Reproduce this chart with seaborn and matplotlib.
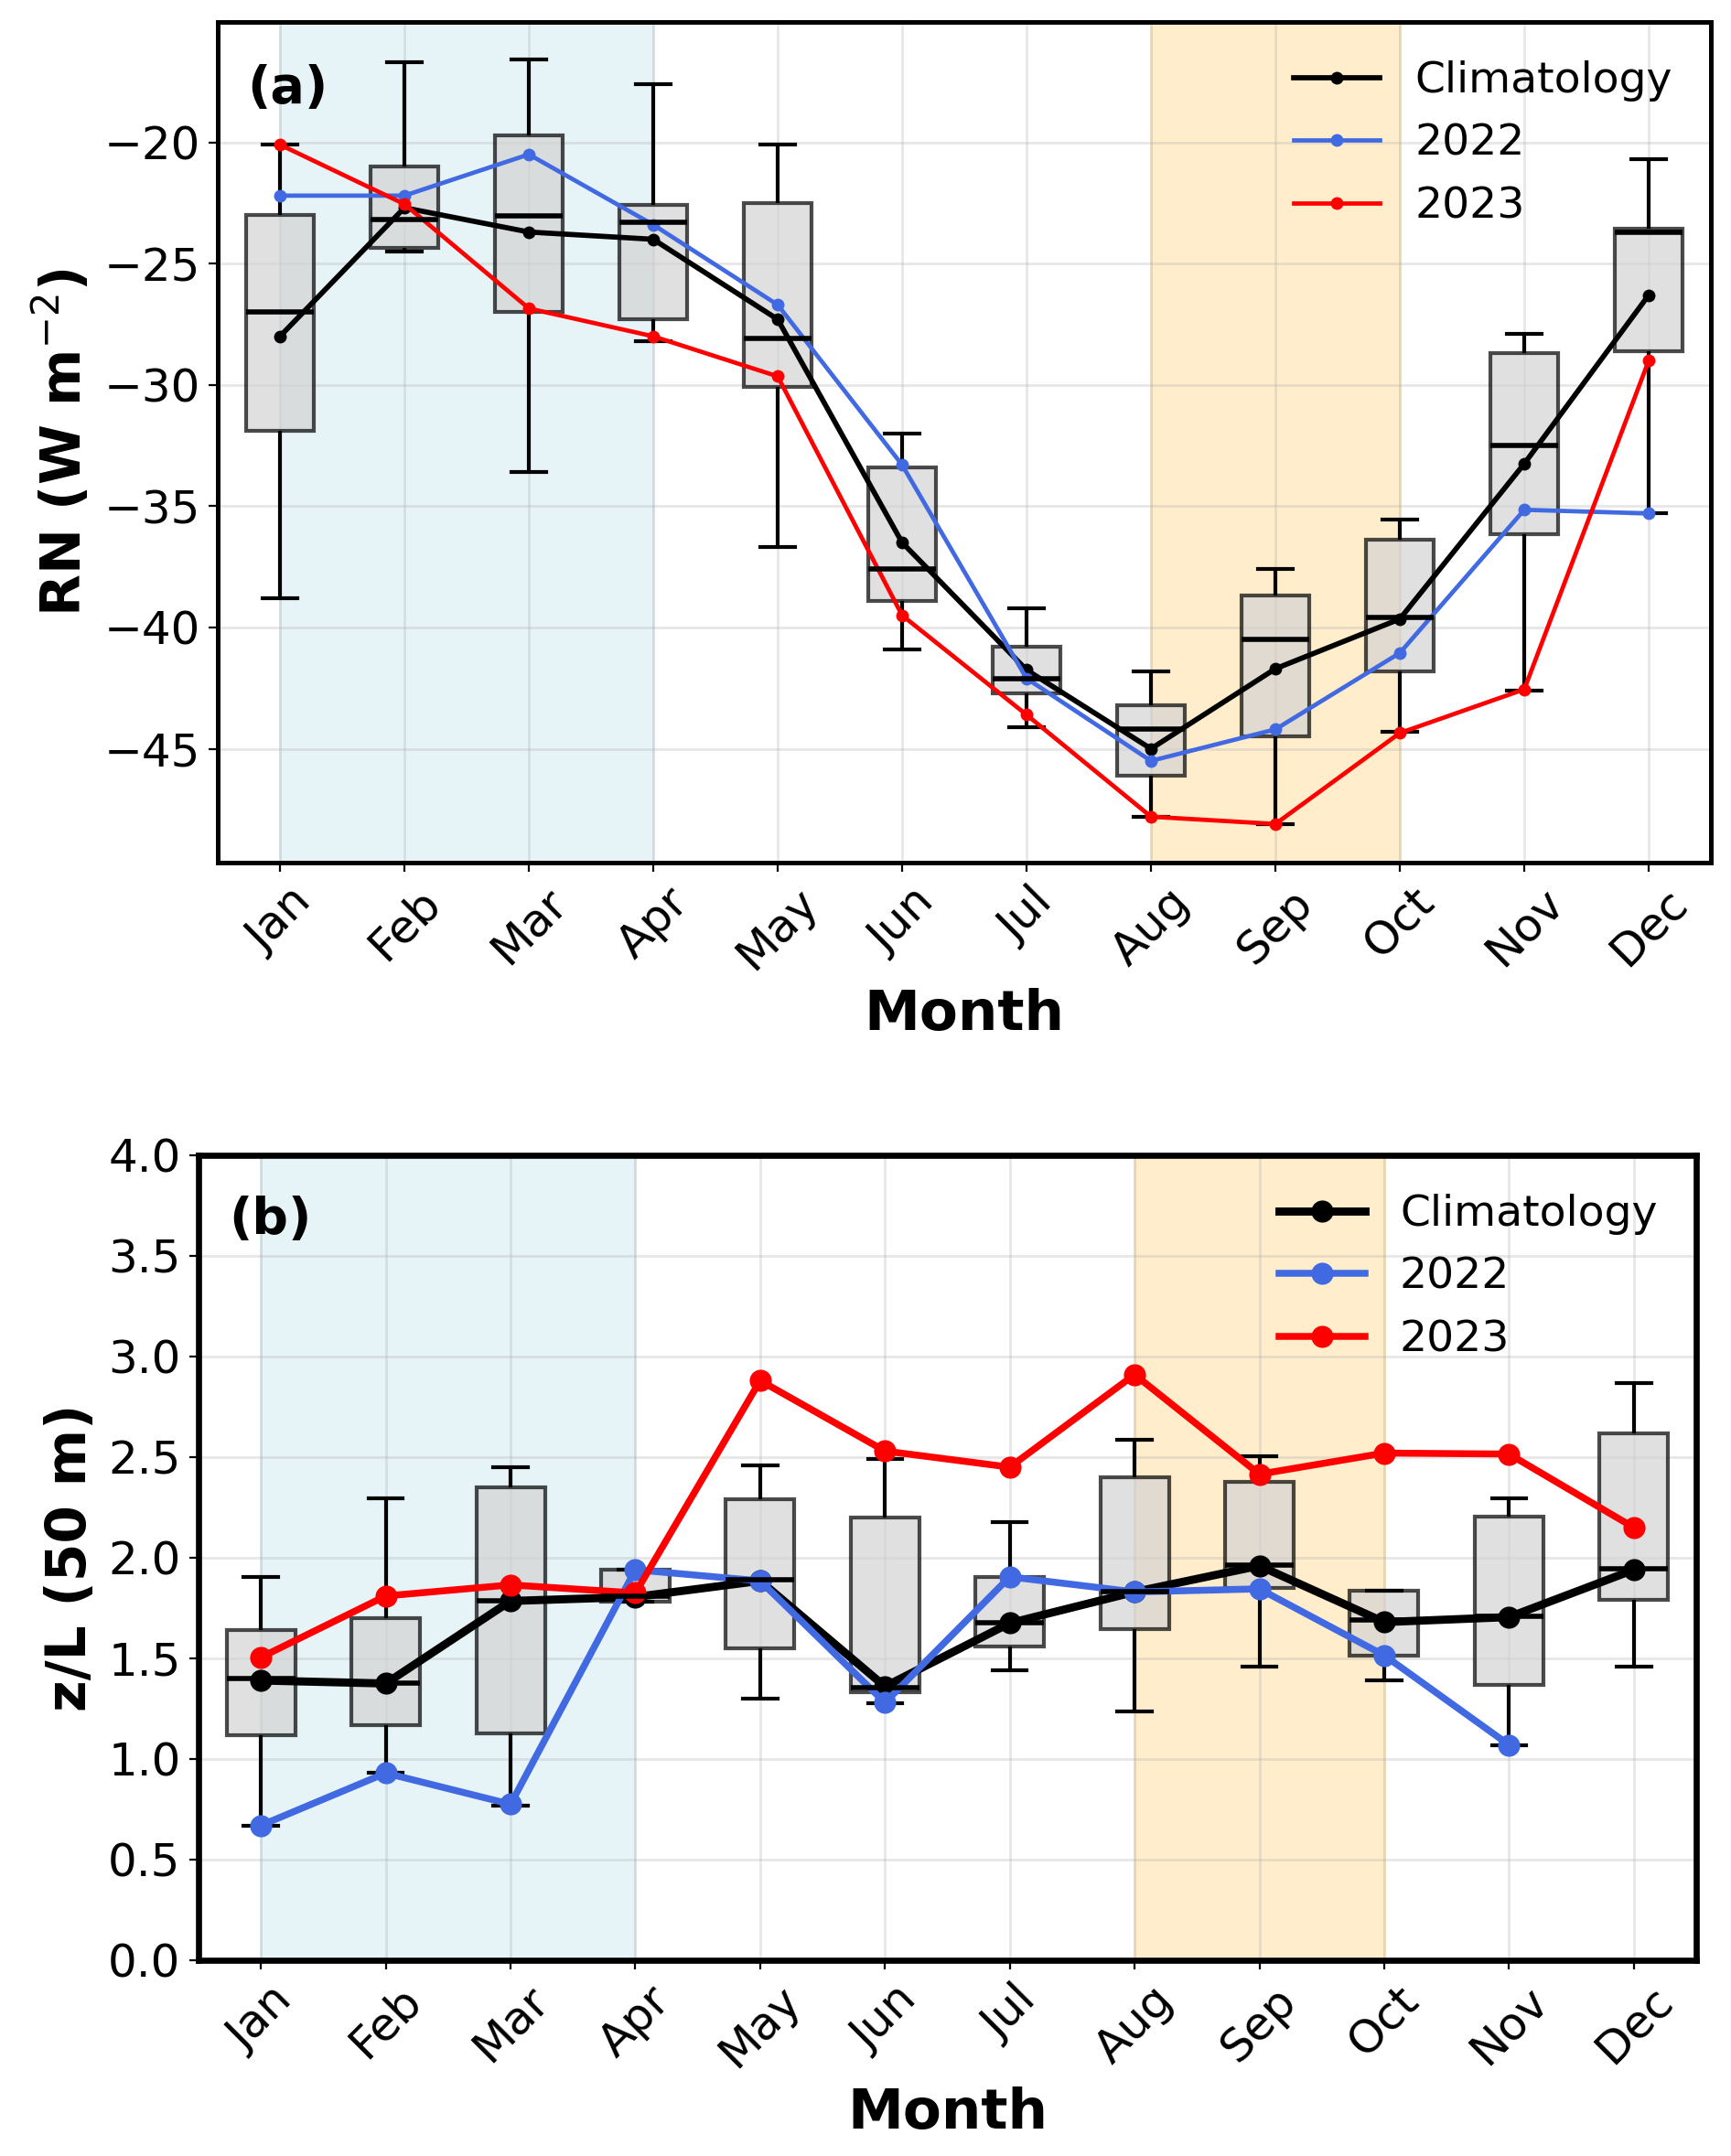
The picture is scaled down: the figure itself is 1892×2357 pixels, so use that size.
import numpy as np
import pandas as pd
import matplotlib
matplotlib.use("Agg")
import matplotlib.pyplot as plt
import seaborn as sns

months = ["Jan", "Feb", "Mar", "Apr", "May", "Jun",
          "Jul", "Aug", "Sep", "Oct", "Nov", "Dec"]

#%% (a) net radiation, box stats
rn_whislo = [-38.8, -24.5, -33.6, -28.2, -36.7, -40.9, -44.1, -47.8, -48.1, -44.3, -42.6, -35.3]
rn_q1     = [-31.9, -24.35, -27.0, -27.3, -30.1, -38.9, -42.7, -46.1, -44.5, -41.8, -36.15, -28.6]
rn_med    = [-27.0, -23.2, -23.05, -23.3, -28.1, -37.6, -42.1, -44.2, -40.5, -39.6, -32.5, -23.7]
rn_q3     = [-23.0, -21.0, -19.7, -22.6, -22.5, -33.4, -40.8, -43.2, -38.7, -36.4, -28.7, -23.55]
rn_whishi = [-20.1, -16.7, -16.6, -17.6, -20.1, -32.0, -39.2, -41.8, -37.6, -35.55, -27.9, -20.7]
rn_clim = [-28.0, -22.7, -23.7, -24.0, -27.3, -36.5, -41.75, -45.0, -41.7, -39.65, -33.25, -26.3]
rn_2022 = [-22.2, -22.2, -20.5, -23.4, -26.7, -33.3, -42.1, -45.5, -44.2, -41.05, -35.15, -35.3]
rn_2023 = [-20.1, -22.55, -26.85, -28.0, -29.65, -39.5, -43.6, -47.8, -48.1, -44.35, -42.55, -29.0]

#%% (b) stability z/L at 50 m
zl_whislo = [0.67, 0.93, 0.77, 1.78, 1.30, 1.275, 1.44, 1.235, 1.46, 1.39, 1.07, 1.46]
zl_q1     = [1.12, 1.17, 1.125, 1.78, 1.55, 1.333, 1.56, 1.645, 1.85, 1.515, 1.37, 1.79]
zl_med    = [1.40, 1.375, 1.785, 1.81, 1.89, 1.355, 1.675, 1.83, 1.965, 1.69, 1.71, 1.945]
zl_q3     = [1.64, 1.70, 2.35, 1.94, 2.29, 2.20, 1.905, 2.40, 2.375, 1.835, 2.205, 2.62]
zl_whishi = [1.905, 2.295, 2.45, 1.94, 2.46, 2.49, 2.175, 2.585, 2.505, 1.835, 2.295, 2.87]
zl_clim = [1.39, 1.375, 1.785, 1.805, 1.885, 1.36, 1.675, 1.83, 1.96, 1.68, 1.705, 1.94]
zl_2022 = [0.67, 0.93, 0.775, 1.94, 1.885, 1.28, 1.905, 1.83, 1.845, 1.515, 1.07, np.nan]
zl_2023 = [1.505, 1.81, 1.865, 1.825, 2.88, 2.53, 2.45, 2.91, 2.415, 2.52, 2.515, 2.15]


def five_number_frame(lo, q1, med, q3, hi):
    # five points per month give exactly these quartiles / extremes
    rows = []
    for i, m in enumerate(months):
        for v in (lo[i], q1[i], med[i], q3[i], hi[i]):
            rows.append({"month": m, "value": v})
    return pd.DataFrame(rows)


def draw_panel(ax, df, clim, y22, y23, ylabel, tag, lw_c, lw_y, ms, spine_w):
    pos = np.arange(len(months))
    ax.axvspan(0, 3, color="lightblue", alpha=0.3, zorder=0)
    ax.axvspan(7, 9, color="orange", alpha=0.2, zorder=0)
    sns.boxplot(data=df, x="month", y="value", order=months, ax=ax,
                width=0.55, whis=(0, 100), saturation=1, fliersize=0,
                color="lightgray",
                boxprops=dict(facecolor="lightgray", edgecolor="black", alpha=0.7, linewidth=1.5),
                whiskerprops=dict(color="black", linewidth=1.5),
                capprops=dict(color="black", linewidth=1.5),
                medianprops=dict(color="black", linewidth=2))
    for vals, col, lw, lab in [(clim, "black", lw_c, "Climatology"),
                               (y22, "royalblue", lw_y, "2022"),
                               (y23, "red", lw_y, "2023")]:
        sns.lineplot(x=pos, y=vals, ax=ax, color=col, linewidth=lw, marker="o",
                     markersize=ms, markeredgecolor=col, markeredgewidth=0, label=lab)
    ax.set_xlim(-0.5, len(months) - 0.5)
    ax.set_xticks(pos)
    ax.set_xticklabels(months, rotation=45)
    ax.grid(True, alpha=0.3, linewidth=1)
    ax.set_axisbelow(True)
    ax.tick_params(labelsize=18)
    ax.set_xlabel("Month", fontsize=22, fontweight="bold")
    ax.set_ylabel(ylabel, fontsize=21.5, fontweight="bold")
    ax.legend(loc="upper right", frameon=False, fontsize=17)
    ax.text(0.02, 0.95, tag, transform=ax.transAxes, va="top",
            fontsize=20, fontweight="bold")
    for s in ax.spines.values():
        s.set_linewidth(spine_w)
        s.set_color("black")


fig = plt.figure(figsize=(9.46, 11.785))
ax1 = fig.add_axes([0.1258, 0.6001, 0.8626, 0.3899])
ax2 = fig.add_axes([0.1147, 0.0908, 0.8652, 0.3734])

rn_df = five_number_frame(rn_whislo, rn_q1, rn_med, rn_q3, rn_whishi)
zl_df = five_number_frame(zl_whislo, zl_q1, zl_med, zl_q3, zl_whishi)

draw_panel(ax1, rn_df, rn_clim, rn_2022, rn_2023, "RN (W m$^{-2}$)", "(a)",
           lw_c=2.05, lw_y=1.7, ms=5, spine_w=1.8)
draw_panel(ax2, zl_df, zl_clim, zl_2022, zl_2023, "z/L (50 m)", "(b)",
           lw_c=3.2, lw_y=2.7, ms=8.7, spine_w=2.4)
ax2.set_ylim(0, 4)

fig.savefig("out.png", dpi=200)
